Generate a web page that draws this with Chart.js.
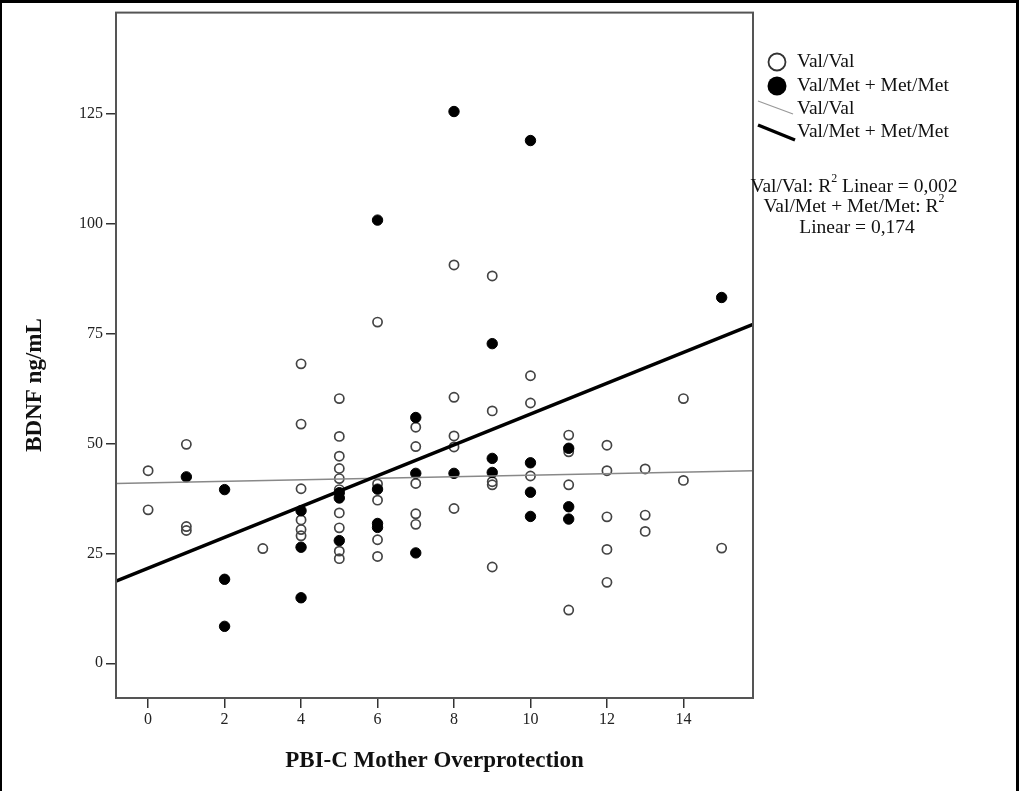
<!DOCTYPE html>
<html>
<head>
<meta charset="utf-8">
<script src="https://cdn.jsdelivr.net/npm/chart.js"></script>
<style>
  html, body { margin: 0; padding: 0; background: #fff; }
  #wrap { width: 1019px; height: 791px; position: relative; }
</style>
</head>
<body>
<div id="wrap"><canvas id="chart" width="1019" height="791"></canvas></div>
<script>
// BDNF vs PBI-C mother overprotection, split by genotype
var valValX = [0, 0, 1, 1, 1, 3, 4, 4, 4, 4, 4, 4,
  5, 5, 5, 5, 5, 5, 5, 5, 5, 5, 6, 6, 6, 6, 6,
  7, 7, 7, 7, 7, 8, 8, 8, 8, 8, 9, 9, 9, 9, 9,
  10, 10, 10, 11, 11, 11, 11, 12, 12, 12, 12, 12,
  13, 13, 13, 14, 14, 15];
var valValY = [43.8, 34.9, 49.8, 31.1, 30.2, 26.1, 68.1, 54.4, 39.7, 32.6, 30.4, 29.0,
  60.2, 51.6, 47.1, 44.3, 42.0, 39.5, 34.2, 30.8, 25.5, 23.8, 77.6, 40.8, 37.1, 28.1, 24.3,
  53.7, 49.3, 40.9, 34.0, 31.6, 90.6, 60.5, 51.7, 49.2, 35.2, 88.1, 57.4, 41.3, 40.6, 21.9,
  65.4, 59.2, 42.6, 51.9, 48.1, 40.6, 12.1, 49.6, 43.8, 33.3, 25.9, 18.4,
  44.2, 33.7, 30.0, 60.2, 41.6, 26.2];

var valMetX = [1, 2, 2, 2, 4, 4, 4, 5, 5, 5, 6, 6, 6, 6,
  7, 7, 7, 8, 8, 9, 9, 9, 10, 10, 10, 10, 11, 11, 11, 15];
var valMetY = [42.4, 39.5, 19.1, 8.4, 34.7, 26.4, 14.9, 38.8, 37.6, 27.9, 100.8, 39.6, 31.8, 30.9,
  55.9, 43.2, 25.1, 125.5, 43.2, 72.7, 46.6, 43.4, 118.9, 45.6, 38.9, 33.4, 48.9, 35.6, 32.8, 83.2];

// fit lines, end values at the x-axis bounds
var xBounds = [-0.84, 15.82];
var valValFitY = [40.9, 43.8];
var valMetFitY = [18.7, 77.1];

var yBounds = [-7.9, 148];
var xTicks = [0, 2, 4, 6, 8, 10, 12, 14];
var yTicks = [0, 25, 50, 75, 100, 125];

var seriesNames = ['Val/Val', 'Val/Met + Met/Met'];
var r2Text = ['0,002', '0,174'];
var yTitle = 'BDNF ng/mL';
var xTitle = 'PBI-C Mother Overprotection';

function pairs(xs, ys){
    var out = [];
    for (var i = 0; i < xs.length; i++) out.push({x: xs[i], y: ys[i]});
    return out;
}

var SERIF = '"Liberation Serif", "DejaVu Serif", serif';
var LEG = '19.5px ' + SERIF;
var SUP = '12px ' + SERIF;

// text with an R² superscript
function drawR2(ctx, parts, cx, cy){
    ctx.font = LEG;
    var w0 = ctx.measureText(parts[0]).width;
    var w2 = ctx.measureText(parts[1]).width;
    ctx.font = SUP;
    var ws = ctx.measureText('2').width;
    var x = cx - (w0 + ws + w2) / 2;
    ctx.textBaseline = 'middle';
    ctx.textAlign = 'left';
    ctx.font = LEG;
    ctx.fillText(parts[0], x, cy);
    ctx.font = SUP;
    ctx.fillText('2', x + w0, cy - 8);
    ctx.font = LEG;
    ctx.fillText(parts[1], x + w0 + ws, cy);
}

var decorations = {
    id: 'decorations',
    beforeDraw: function(chart){
        var ctx = chart.ctx;
        ctx.save();
        ctx.fillStyle = '#fff';
        ctx.fillRect(0, 0, chart.width, chart.height);
        ctx.restore();
    },
    afterDraw: function(chart){
        var ctx = chart.ctx, a = chart.chartArea;
        ctx.save();
        // plot frame
        ctx.strokeStyle = '#555';
        ctx.lineWidth = 2;
        ctx.strokeRect(a.left, a.top, a.right - a.left, a.bottom - a.top);
        // outer frame
        ctx.fillStyle = '#000';
        ctx.fillRect(0, 0, chart.width, 3);
        ctx.fillRect(0, 0, 2, chart.height);
        ctx.fillRect(chart.width - 3, 0, 3, chart.height);

        // y title, sits a bit below the middle of the axis
        ctx.save();
        ctx.translate(35, 385);
        ctx.rotate(-Math.PI / 2);
        ctx.font = 'bold 23px ' + SERIF;
        ctx.fillStyle = '#111';
        ctx.textAlign = 'center';
        ctx.textBaseline = 'middle';
        ctx.fillText(yTitle, 0, 0);
        ctx.restore();

        // legend
        var lx = a.right + 24, tx = a.right + 44;
        ctx.fillStyle = '#111';
        ctx.font = LEG;
        ctx.textBaseline = 'middle';
        ctx.textAlign = 'left';

        ctx.beginPath();
        ctx.arc(lx, 62, 8.5, 0, Math.PI * 2);
        ctx.strokeStyle = '#333';
        ctx.lineWidth = 1.8;
        ctx.stroke();
        ctx.fillText(seriesNames[0], tx, 62);

        ctx.beginPath();
        ctx.arc(lx, 86, 9.5, 0, Math.PI * 2);
        ctx.fillStyle = '#000';
        ctx.fill();
        ctx.fillStyle = '#111';
        ctx.fillText(seriesNames[1], tx, 86);

        ctx.beginPath();
        ctx.moveTo(a.right + 5, 101);
        ctx.lineTo(a.right + 40, 114);
        ctx.strokeStyle = '#999';
        ctx.lineWidth = 1.3;
        ctx.stroke();
        ctx.fillText(seriesNames[0], tx, 109);

        ctx.beginPath();
        ctx.moveTo(a.right + 5, 125);
        ctx.lineTo(a.right + 42, 140);
        ctx.strokeStyle = '#000';
        ctx.lineWidth = 3.5;
        ctx.stroke();
        ctx.fillText(seriesNames[1], tx, 132);

        var cx = a.right + 101;
        drawR2(ctx, [seriesNames[0] + ': R', ' Linear = ' + r2Text[0]], cx, 187);
        drawR2(ctx, [seriesNames[1] + ': R', ''], cx, 207);
        ctx.textAlign = 'center';
        ctx.font = LEG;
        ctx.fillText('Linear = ' + r2Text[1], cx + 3, 228);
        ctx.restore();
    }
};

var ctx = document.getElementById('chart').getContext('2d');
new Chart(ctx, {
    type: 'scatter',
    data: {
        datasets: [
            {
                type: 'line',
                data: pairs(xBounds, valMetFitY),
                borderColor: '#000',
                borderWidth: 3.5,
                pointRadius: 0,
                fill: false,
                order: 0
            },
            {
                type: 'line',
                data: pairs(xBounds, valValFitY),
                borderColor: '#888',
                borderWidth: 1.4,
                pointRadius: 0,
                fill: false,
                order: 0
            },
            {
                label: seriesNames[1],
                data: pairs(valMetX, valMetY),
                pointRadius: 5.2,
                pointBackgroundColor: '#000',
                pointBorderColor: '#000',
                pointBorderWidth: 1,
                order: 1
            },
            {
                label: seriesNames[0],
                data: pairs(valValX, valValY),
                pointRadius: 4.6,
                pointBackgroundColor: 'rgba(0,0,0,0)',
                pointBorderColor: '#444',
                pointBorderWidth: 1.7,
                order: 2
            }
        ]
    },
    options: {
        responsive: false,
        animation: false,
        layout: { padding: { top: 10, right: 266, left: 0, bottom: 0 } },
        plugins: { legend: { display: false }, tooltip: { enabled: false } },
        scales: {
            x: {
                type: 'linear',
                min: xBounds[0],
                max: xBounds[1],
                afterBuildTicks: function(scale){
                    scale.ticks = xTicks.map(function(v){ return {value: v}; });
                },
                afterFit: function(scale){ scale.height = 93; },
                grid: { drawOnChartArea: false, drawTicks: true, tickLength: 10, color: '#333', lineWidth: 1.5 },
                border: { display: false },
                ticks: { color: '#222', padding: 2, maxRotation: 0, font: { family: SERIF, size: 16 } },
                title: {
                    display: true,
                    text: xTitle,
                    color: '#111',
                    font: { family: SERIF, size: 23, weight: 'bold' },
                    padding: { top: 0, bottom: 16 }
                }
            },
            y: {
                type: 'linear',
                min: yBounds[0],
                max: yBounds[1],
                afterBuildTicks: function(scale){
                    scale.ticks = yTicks.map(function(v){ return {value: v}; });
                },
                afterFit: function(scale){ scale.width = 116; },
                grid: { drawOnChartArea: false, drawTicks: true, tickLength: 10, color: '#333', lineWidth: 1.5 },
                border: { display: false },
                ticks: { color: '#222', padding: 3, font: { family: SERIF, size: 16 } },
                title: { display: false }
            }
        }
    },
    plugins: [decorations]
});
</script>
</body>
</html>
